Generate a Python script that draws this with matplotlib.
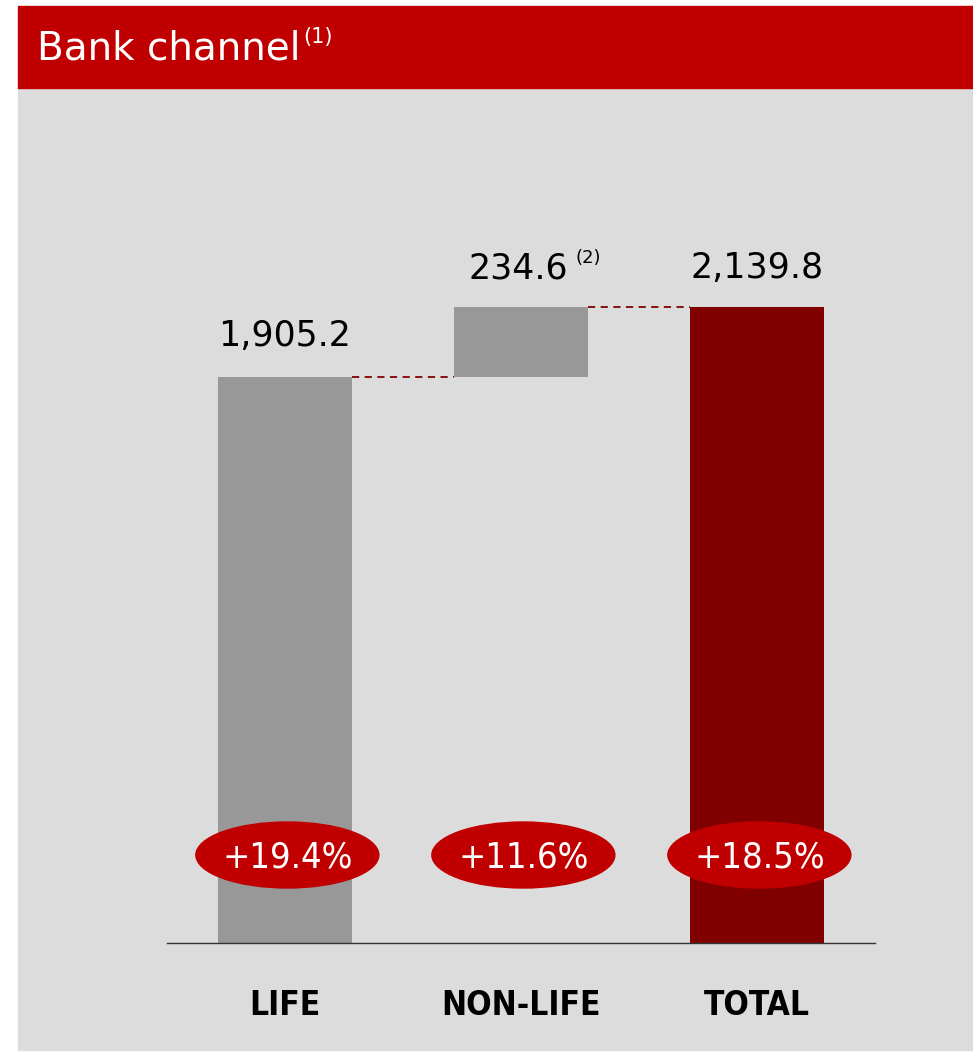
import matplotlib.pyplot as plt
from matplotlib.patches import Rectangle, Ellipse

# data
categories = ["LIFE", "NON-LIFE", "TOTAL"]
life = 1905.2
non_life = 234.6
total = 2139.8
growth = ["+19.4%", "+11.6%", "+18.5%"]

RED = "#C00000"
DARK_RED = "#800000"
GREY_BAR = "#989898"
BG = "#DCDCDC"

fig = plt.figure(figsize=(9.73, 10.52), dpi=100)
W, H = 973, 1052

# background panels (figure pixel coords -> fractions)
fig.patches.append(Rectangle((18 / W, 1 - 1050 / H), (W - 18) / W, (1050 - 88) / H,
                             transform=fig.transFigure, color=BG, zorder=-2))
fig.patches.append(Rectangle((18 / W, 1 - 88 / H), (W - 18) / W, (88 - 6) / H,
                             transform=fig.transFigure, color=RED, zorder=-2))
fig.text(37 / W, 1 - 48 / H, "Bank channel", color="white", fontsize=28,
         va="center", ha="left")
fig.text(303 / W, 1 - 37 / H, "(1)", color="white", fontsize=15,
         va="center", ha="left")

ax = fig.add_axes([167 / W, 1 - 943 / H, 708 / W, (943 - 88) / H])
ax.patch.set_alpha(0)
px = 1905.2 / 566  # data units per pixel
ax.set_ylim(0, 855 * px)
ax.set_xlim(-0.5, 2.5)

x = [0, 1, 2]
bw = 134 / 236
ax.bar(x[0], life, width=bw, color=GREY_BAR, zorder=2)
ax.bar(x[1], non_life, bottom=life, width=bw, color=GREY_BAR, zorder=2)
ax.bar(x[2], total, width=bw, color=DARK_RED, zorder=2)

# connectors
ax.plot([x[0] + bw / 2, x[1] - bw / 2], [life, life], ls=(0, (4, 3)),
        color=DARK_RED, lw=1.3, zorder=1)
ax.plot([x[1] + bw / 2, x[2] - bw / 2], [total, total], ls=(0, (4, 3)),
        color=DARK_RED, lw=1.3, zorder=1)

# value labels
lab_kw = dict(ha="center", va="bottom", fontsize=25, color="black")
ax.text(x[0], life + 24 * px, f"{life:,.1f}", **lab_kw)
ax.text(x[1] - 0.01, life + non_life + 22 * px, f"{non_life:,.1f}", **lab_kw)
ax.text(x[1] + 0.285, life + non_life + 40 * px, "(2)", ha="center",
        va="bottom", fontsize=13, color="black")
ax.text(x[2], total + 22 * px, f"{total:,.1f}", **lab_kw)

# growth ellipses
for xi, g in zip(x, growth):
    ax.add_patch(Ellipse((xi + 0.01, 88 * px), 183 / 236, 66 * px,
                         color=RED, zorder=3))
    ax.text(xi + 0.01, 86 * px, g, ha="center", va="center", color="white",
            fontsize=26, family="DejaVu Sans", stretch="condensed",
            zorder=4)

ax.set_yticks([])
ax.set_xticks(x, categories)
ax.tick_params(axis="x", length=0, pad=33)
for t in ax.get_xticklabels():
    t.set_fontsize(24)
    t.set_fontweight("bold")
    t.set_family("DejaVu Sans")
    t.set_stretch("condensed")
for s in ["top", "left", "right"]:
    ax.spines[s].set_visible(False)
ax.spines["bottom"].set_color("#333333")
ax.spines["bottom"].set_linewidth(1.0)

fig.savefig("out.png", dpi=100)
